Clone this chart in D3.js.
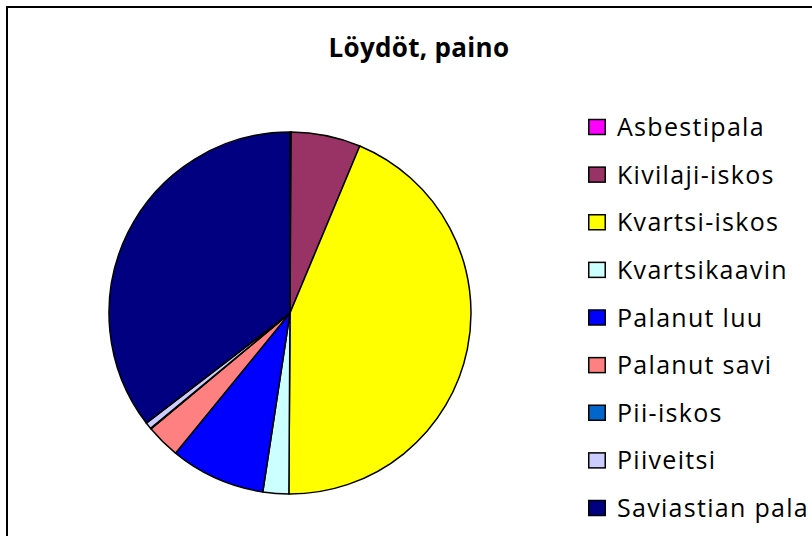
<!DOCTYPE html>
<html>
<head>
<meta charset="utf-8">
<script src="https://cdn.jsdelivr.net/npm/d3@7"></script>
<style>
  body { margin: 0; background: #fff; }
  svg { display: block; font-family: "Open Sans", Lato, sans-serif; }
</style>
</head>
<body>
<script>
var width = 812;
var height = 536;

var title = "Löydöt, paino";
var categories = ["Asbestipala", "Kivilaji-iskos", "Kvartsi-iskos", "Kvartsikaavin",
                  "Palanut luu", "Palanut savi", "Pii-iskos", "Piiveitsi", "Saviastian pala"];
var values = [0.1, 6.2, 43.8, 2.3, 8.5, 3.05, 0.05, 0.6, 35.4];
var colors = ["#FF00FF", "#993366", "#FFFF00", "#CCFFFF", "#0000FF",
              "#FF8080", "#0066CC", "#CCCCFF", "#000080"];

var data = categories.map(function(c, i) { return {label: c, value: values[i]}; });

var svg = d3.select("body").append("svg")
    .attr("width", width)
    .attr("height", height);

// chart frame, runs off the right and bottom edges
svg.append("rect")
    .attr("x", 7)
    .attr("y", 7)
    .attr("width", 830)
    .attr("height", 560)
    .attr("fill", "#fff")
    .attr("stroke", "#000")
    .attr("stroke-width", 2);

svg.append("text")
    .attr("x", 419)
    .attr("y", 57)
    .attr("text-anchor", "middle")
    .attr("font-weight", "bold")
    .attr("font-size", 26)
    .attr("letter-spacing", 0.3)
    .text(title);

var color = d3.scaleOrdinal().domain(categories).range(colors);

var r = 181;
var plot = svg.append("g")
    .attr("transform", "translate(290,313)");

var pie = d3.pie()
    .sort(null)
    .value(function(d) { return d.value; });

var arc = d3.arc()
    .innerRadius(0)
    .outerRadius(r);

plot.selectAll("path")
    .data(pie(data))
    .enter()
    .append("path")
    .attr("d", arc)
    .attr("fill", function(d) { return color(d.data.label); })
    .attr("stroke", "#000")
    .attr("stroke-width", 1.5)
    .attr("stroke-linejoin", "round");

// legend
var ly = d3.scalePoint()
    .domain(categories)
    .range([127, 508]);

var legend = svg.selectAll(".legend")
    .data(categories)
    .enter()
    .append("g")
    .attr("class", "legend")
    .attr("transform", function(d) { return "translate(588," + ly(d) + ")"; });

legend.append("rect")
    .attr("x", 0.75)
    .attr("y", -7.5)
    .attr("width", 16.5)
    .attr("height", 15)
    .attr("fill", function(d) { return color(d); })
    .attr("stroke", "#000")
    .attr("stroke-width", 1.5);

legend.append("text")
    .attr("x", 29)
    .attr("y", 9)
    .attr("font-size", 25)
    .attr("letter-spacing", 1.3)
    .text(function(d) { return d; });
</script>
</body>
</html>
